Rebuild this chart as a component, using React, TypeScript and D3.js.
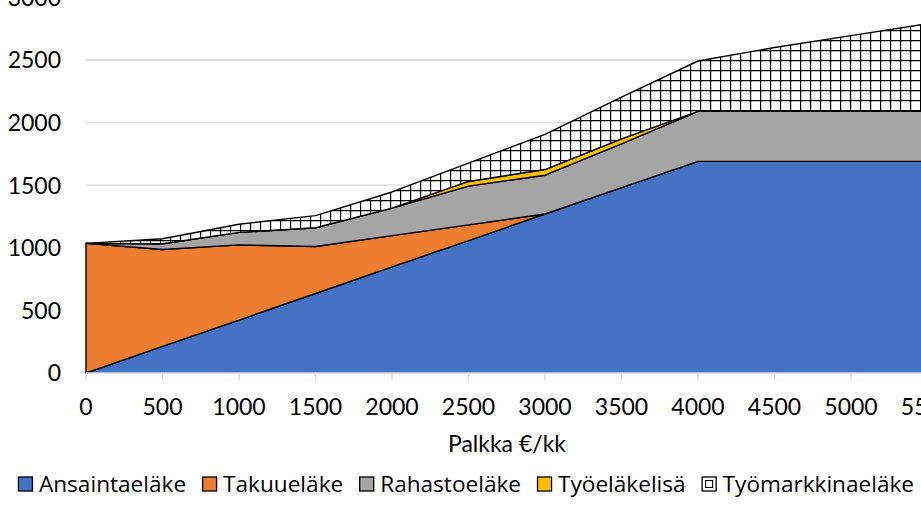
import { useEffect, useRef } from "react";
import * as d3 from "d3";

const salaries = [0, 500, 1000, 1500, 2000, 2500, 3000, 3500, 4000, 4500, 5000, 5500, 6000];
const ansaintaelake = [0, 212, 423, 635, 847, 1058, 1270, 1480, 1690, 1690, 1690, 1690, 1690];
const takuuelake = [1035, 775, 600, 375, 250, 125, 0, 0, 0, 0, 0, 0, 0];
const rahastoelake = [0, 45, 100, 150, 220, 310, 310, 350, 400, 400, 400, 400, 400];
const tyoelakelisa = [0, 0, 0, 0, 0, 37, 45, 40, 0, 0, 0, 0, 0];
const tyomarkkinaelake = [0, 40, 65, 97, 129, 146, 281, 333, 402, 510, 605, 700, 795];

const seriesNames = ["Ansaintaeläke", "Takuueläke", "Rahastoeläke", "Työeläkelisä", "Työmarkkinaeläke"];
const seriesColors = ["#4472C4", "#ED7D31", "#A5A5A5", "#FFC000", "url(#grid)"];
const yTicks = [0, 500, 1000, 1500, 2000, 2500, 3000];
const xTitle = "Palkka €/kk";

const W = 921;
const H = 507;
const FONT = "Lato, 'Open Sans', sans-serif";
const LEGEND_FONT = "'Open Sans', Lato, sans-serif";

export default function App() {
  const ref = useRef<SVGSVGElement>(null);

  useEffect(() => {
    const svg = d3.select(ref.current);
    svg.selectAll("*").remove();

    const rows = salaries.map((s, i) => ({
      s,
      a: ansaintaelake[i],
      t: takuuelake[i],
      r: rahastoelake[i],
      y: tyoelakelisa[i],
      m: tyomarkkinaelake[i],
    }));
    const keys = ["a", "t", "r", "y", "m"];
    const stacked = d3.stack<any>().keys(keys)(rows);

    const x = d3.scaleLinear().domain([0, 6000]).range([86, 1004]);
    const y = d3.scaleLinear().domain([0, 3000]).range([373, -2.6]);

    const defs = svg.append("defs");
    const pat = defs
      .append("pattern")
      .attr("id", "grid")
      .attr("patternUnits", "userSpaceOnUse")
      .attr("width", 10)
      .attr("height", 10);
    pat.append("rect").attr("width", 10).attr("height", 10).attr("fill", "#fff");
    pat
      .append("path")
      .attr("d", "M0,0.5H10M0.5,0V10")
      .attr("stroke", "#000")
      .attr("stroke-width", 1.4);

    // gridlines
    svg
      .append("g")
      .selectAll("line")
      .data(yTicks.filter((t) => t > 0))
      .join("line")
      .attr("x1", x(0))
      .attr("x2", W)
      .attr("y1", (d) => y(d))
      .attr("y2", (d) => y(d))
      .attr("stroke", "#d9d9d9")
      .attr("stroke-width", 1.3);

    const area = d3
      .area<any>()
      .x((d) => x(d.data.s))
      .y0((d) => y(d[0]))
      .y1((d) => y(d[1]));
    const top = d3
      .line<any>()
      .x((d) => x(d.data.s))
      .y((d) => y(d[1]));

    stacked.forEach((layer, i) => {
      svg
        .append("path")
        .datum(layer)
        .attr("d", area)
        .attr("fill", seriesColors[i])
        .attr("stroke", i === 0 ? "none" : "#000")
        .attr("stroke-width", 1.4)
        .attr("stroke-linejoin", "round");
      if (i === 0) {
        svg
          .append("path")
          .datum(layer)
          .attr("d", top)
          .attr("fill", "none")
          .attr("stroke", "#000")
          .attr("stroke-width", 1.4);
      }
    });

    // x axis
    svg
      .append("line")
      .attr("x1", x(0))
      .attr("x2", W)
      .attr("y1", y(0))
      .attr("y2", y(0))
      .attr("stroke", "#d9d9d9")
      .attr("stroke-width", 1.3);
    svg
      .append("g")
      .selectAll("line")
      .data(salaries)
      .join("line")
      .attr("x1", (d) => x(d))
      .attr("x2", (d) => x(d))
      .attr("y1", y(0))
      .attr("y2", y(0) + 7)
      .attr("stroke", "#d9d9d9")
      .attr("stroke-width", 1.3);

    svg
      .append("g")
      .selectAll("text")
      .data(salaries)
      .join("text")
      .attr("x", (d) => x(d))
      .attr("y", 415)
      .attr("text-anchor", "middle")
      .attr("font-family", FONT)
      .attr("font-size", 23)
      .attr("fill", "#000")
      .text((d) => d);

    svg
      .append("g")
      .selectAll("text")
      .data(yTicks)
      .join("text")
      .attr("x", 61)
      .attr("y", (d) => y(d) + 8.3)
      .attr("text-anchor", "end")
      .attr("font-family", FONT)
      .attr("font-size", 23)
      .attr("fill", "#000")
      .text((d) => d);

    svg
      .append("text")
      .attr("x", 507)
      .attr("y", 452)
      .attr("text-anchor", "middle")
      .attr("font-family", FONT)
      .attr("font-size", 23)
      .attr("fill", "#000")
      .text(xTitle);

    // legend
    const lg = svg.append("g");
    let cx = 0;
    seriesNames.forEach((name, i) => {
      const it = lg.append("g").attr("transform", `translate(${cx},0)`);
      it.append("rect")
        .attr("x", 0.5)
        .attr("y", 477)
        .attr("width", 14)
        .attr("height", 14)
        .attr("fill", seriesColors[i] === "url(#grid)" ? "#fff" : seriesColors[i])
        .attr("stroke", "#000")
        .attr("stroke-width", 1.3);
      if (i === 4) {
        it.append("rect")
          .attr("x", 4)
          .attr("y", 480.5)
          .attr("width", 7)
          .attr("height", 7)
          .attr("fill", "none")
          .attr("stroke", "#000")
          .attr("stroke-width", 1.1);
      }
      const t = it
        .append("text")
        .attr("x", 21)
        .attr("y", 492)
        .attr("font-family", LEGEND_FONT)
        .attr("font-size", 22.6)
        .attr("fill", "#000")
        .text(name);
      const w = (t.node() as SVGTextElement).getComputedTextLength();
      cx += 21 + w + 16;
    });
    const total = cx - 16;
    lg.attr("transform", `translate(${466 - total / 2},0)`);
  }, []);

  return (
    <div style={{ position: "fixed", left: 0, top: 0, width: W, height: H, background: "#fff" }}>
      <svg ref={ref} width={W} height={H} style={{ display: "block", overflow: "hidden" }} />
    </div>
  );
}
